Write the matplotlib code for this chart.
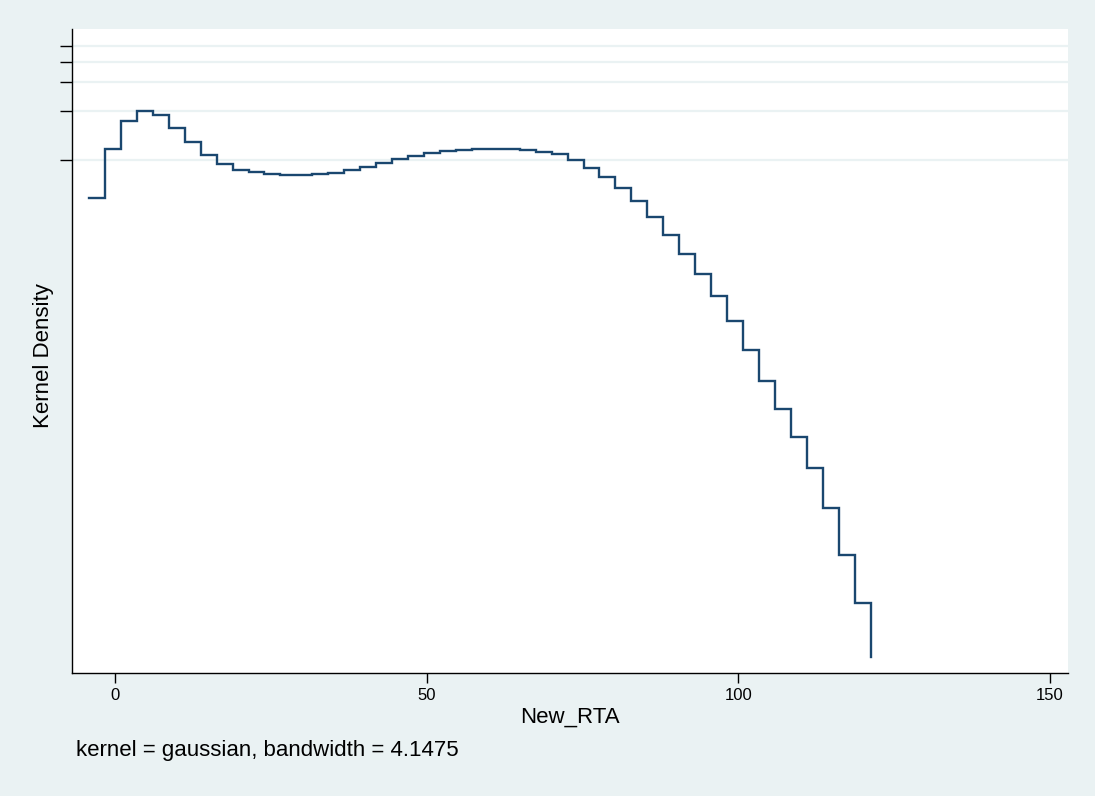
import matplotlib
matplotlib.use("Agg")
import matplotlib.pyplot as plt

plt.rcParams['font.family'] = ['Liberation Sans', 'DejaVu Sans']

# evaluation grid (New_RTA) and kernel density estimates
new_rta = [-4.17, -1.61, 0.95, 3.51, 6.07, 8.63, 11.19, 13.75, 16.31, 18.86,
           21.42, 23.98, 26.54, 29.10, 31.66, 34.22, 36.78, 39.34, 41.90, 44.46,
           47.02, 49.58, 52.14, 54.70, 57.26, 59.82, 62.37, 64.93, 67.49, 70.05,
           72.61, 75.17, 77.73, 80.29, 82.85, 85.41, 87.97, 90.53, 93.09, 95.65,
           98.21, 100.77, 103.33, 105.88, 108.44, 111.00, 113.56, 116.12, 118.68, 121.24]
density = [0.002928, 0.005838, 0.008697, 0.010012, 0.009464, 0.007847, 0.006443, 0.005387,
           0.004766, 0.004380, 0.004222, 0.004105, 0.004048, 0.004048, 0.004105, 0.004199,
           0.004362, 0.004550, 0.004793, 0.005071, 0.005312, 0.005541, 0.005700, 0.005781,
           0.005862, 0.005887, 0.005862, 0.005805, 0.005644, 0.005441, 0.004986, 0.004486,
           0.003952, 0.003385, 0.002807, 0.002253, 0.001734, 0.001327, 0.001006, 0.000744,
           0.000522, 0.000344, 0.000222, 0.0001503, 0.0001021, 0.0000659, 0.0000374, 0.0000193,
           0.0000098, 0.00000458]

x_ticks = [0, 50, 100, 150]
y_ticks = [0.005, 0.01, 0.015, 0.02, 0.025]

bg = '#eaf2f3'
fig = plt.figure(figsize=(10.95, 7.96), dpi=100, facecolor=bg)
ax = fig.add_axes([0.0655, 0.1545, 0.9098, 0.8095])
ax.set_facecolor('white')

ax.plot(new_rta, density, drawstyle='steps-post', color='#1a476f', lw=1.7,
        solid_joinstyle='miter')

ax.set_yscale('log')
ax.set_ylim(3.66e-6, 0.03191)
ax.set_xlim(-6.95, 152.9)

ax.set_yticks(y_ticks)
ax.set_yticklabels([])
ax.yaxis.set_minor_locator(matplotlib.ticker.NullLocator())
ax.set_xticks(x_ticks)
ax.set_xticklabels([str(t) for t in x_ticks])

ax.grid(axis='y', which='major', color=bg, lw=1.6)
ax.set_axisbelow(True)

for s in ['top', 'right']:
    ax.spines[s].set_visible(False)
for s in ['left', 'bottom']:
    ax.spines[s].set_color('black')
    ax.spines[s].set_linewidth(1.0)

ax.tick_params(axis='y', direction='out', length=8.5, width=1.0, color='black')
ax.tick_params(axis='x', direction='out', length=7.5, width=1.0, color='black',
               labelsize=12, pad=3)

fig.text(569.5 / 1095, 1 - 717 / 796, 'New_RTA', ha='center', va='center', fontsize=16)
fig.text(43.5 / 1095, 1 - 355.5 / 796, 'Kernel Density', ha='center', va='center',
         rotation=90, fontsize=16)
fig.text(76 / 1095, 1 - 750.5 / 796, 'kernel = gaussian, bandwidth = 4.1475',
         ha='left', va='center', fontsize=16)

fig.savefig('out.png', dpi=100, facecolor=bg)
